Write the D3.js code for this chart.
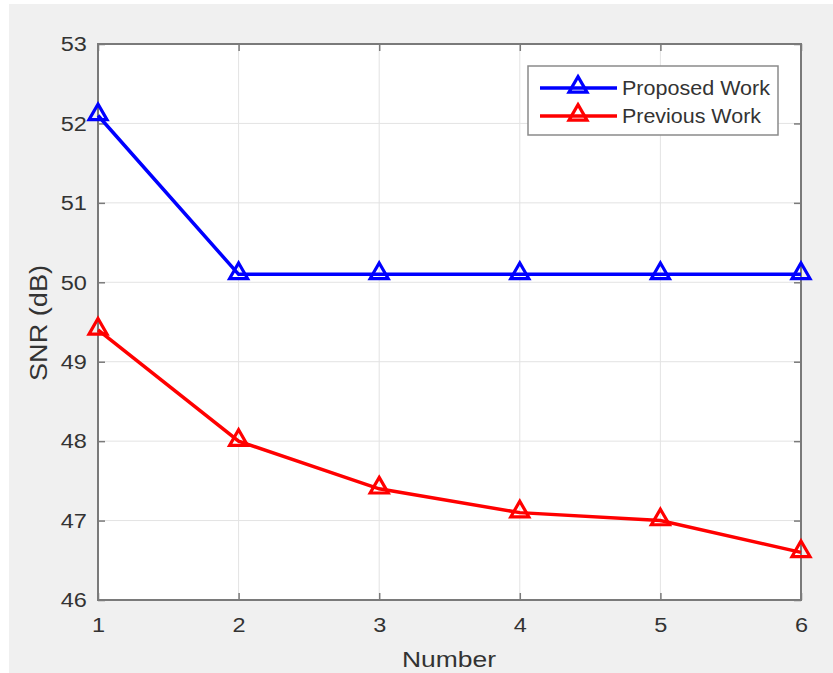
<!DOCTYPE html>
<html>
<head>
<meta charset="utf-8">
<style>
  body { margin: 0; background: #fff; }
  svg { display: block; font-family: "Liberation Sans", Arial, sans-serif; }
</style>
</head>
<body>
<script src="https://cdn.jsdelivr.net/npm/d3@7"></script>
<script>
// data
var numbers = [1, 2, 3, 4, 5, 6];
var proposed = [52.1, 50.1, 50.1, 50.1, 50.1, 50.1];
var previous = [49.4, 48.0, 47.4, 47.1, 47.0, 46.6];
var yTicks = [46, 47, 48, 49, 50, 51, 52, 53];
var seriesNames = ["Proposed Work", "Previous Work"];
var seriesColors = ["#0000ff", "#ff0000"];

var W = 833, H = 673;
var margin = {top: 44, right: 32, bottom: 73, left: 98};
var width = W - margin.left - margin.right,
    height = H - margin.top - margin.bottom;

var svg = d3.select("body").append("svg")
  .attr("width", W).attr("height", H);

// grey figure background
svg.append("rect").attr("x", 9).attr("y", 4)
  .attr("width", W - 9).attr("height", H - 4).attr("fill", "#f0f0f0");

var g = svg.append("g")
  .attr("transform", "translate(" + margin.left + "," + margin.top + ")");

var x = d3.scaleLinear().domain([1, 6]).range([0, width]);
var y = d3.scaleLinear().domain([46, 53]).range([height, 0]);

g.append("rect").attr("width", width).attr("height", height).attr("fill", "#fff");

// grid
g.selectAll(".gx").data(numbers).enter().append("line")
  .attr("x1", d => x(d)).attr("x2", d => x(d))
  .attr("y1", 0).attr("y2", height)
  .attr("stroke", "#e3e3e3").attr("stroke-width", 1);
g.selectAll(".gy").data(yTicks).enter().append("line")
  .attr("y1", d => y(d)).attr("y2", d => y(d))
  .attr("x1", 0).attr("x2", width)
  .attr("stroke", "#e3e3e3").attr("stroke-width", 1);

// axes (ticks inward like matlab)
var axColor = "#7a7a7a";
function styleAxis(sel) {
  sel.select(".domain").remove();
  sel.selectAll(".tick line").attr("stroke", axColor).attr("stroke-width", 1.5);
  sel.selectAll(".tick text").attr("fill", "#333").attr("font-size", 21)
    .attr("transform", "scale(1.12,1)");
}
g.append("g").attr("transform", "translate(0," + height + ")")
  .call(d3.axisBottom(x).tickValues(numbers).tickFormat(d3.format("d")).tickSizeInner(-7).tickPadding(17))
  .call(styleAxis);
g.append("g")
  .call(d3.axisTop(x).tickValues(numbers).tickSizeInner(-7).tickFormat(""))
  .call(styleAxis);
var ya = g.append("g")
  .call(d3.axisLeft(y).tickValues(yTicks).tickFormat(d3.format("d")).tickSizeInner(-7).tickPadding(9))
  .call(styleAxis);
g.append("g").attr("transform", "translate(" + width + ",0)")
  .call(d3.axisRight(y).tickValues(yTicks).tickSizeInner(-7).tickFormat(""))
  .call(styleAxis);
// scale stretches around the tick origin; keep right-aligned labels anchored
ya.selectAll(".tick text").attr("transform", "translate(-1,0) scale(1.12,1)");

g.append("rect").attr("width", width).attr("height", height)
  .attr("fill", "none").attr("stroke", axColor).attr("stroke-width", 2);

// series
var tri = d3.symbol().type(d3.symbolTriangle).size(140);
[proposed, previous].forEach(function (vals, i) {
  var pts = vals.map((v, j) => [numbers[j], v]);
  g.append("path").datum(pts)
    .attr("fill", "none").attr("stroke", seriesColors[i]).attr("stroke-width", 3.5)
    .attr("d", d3.line().x(d => x(d[0])).y(d => y(d[1])));
  g.selectAll(".m" + i).data(pts).enter().append("path")
    .attr("d", tri)
    .attr("transform", d => "translate(" + x(d[0]) + "," + (y(d[1]) - 1) + ")")
    .attr("fill", "none").attr("stroke", seriesColors[i]).attr("stroke-width", 3.2);
});

// axis labels
svg.append("text").attr("x", 449).attr("y", 667).attr("text-anchor", "middle")
  .attr("font-size", 22).attr("fill", "#333")
  .attr("textLength", 94).attr("lengthAdjust", "spacingAndGlyphs").text("Number");
svg.append("text").attr("transform", "translate(47,323) rotate(-90)")
  .attr("text-anchor", "middle").attr("font-size", 23).attr("fill", "#333")
  .attr("textLength", 116).attr("lengthAdjust", "spacingAndGlyphs").text("SNR (dB)");

// legend
var lg = svg.append("g").attr("transform", "translate(528,66)");
lg.append("rect").attr("width", 250).attr("height", 69)
  .attr("fill", "#fff").attr("stroke", "#8a8a8a").attr("stroke-width", 1.5);
seriesNames.forEach(function (name, i) {
  var yy = 22 + i * 28;
  lg.append("line").attr("x1", 12).attr("x2", 89).attr("y1", yy).attr("y2", yy)
    .attr("stroke", seriesColors[i]).attr("stroke-width", 3.5);
  lg.append("path").attr("d", tri).attr("transform", "translate(50," + (yy - 1) + ")")
    .attr("fill", "none").attr("stroke", seriesColors[i]).attr("stroke-width", 3.2);
  lg.append("text").attr("x", 94).attr("y", yy + 7).attr("font-size", 20)
    .attr("fill", "#333").attr("textLength", i === 0 ? 148 : 139)
    .attr("lengthAdjust", "spacingAndGlyphs").text(name);
});
</script>
</body>
</html>
